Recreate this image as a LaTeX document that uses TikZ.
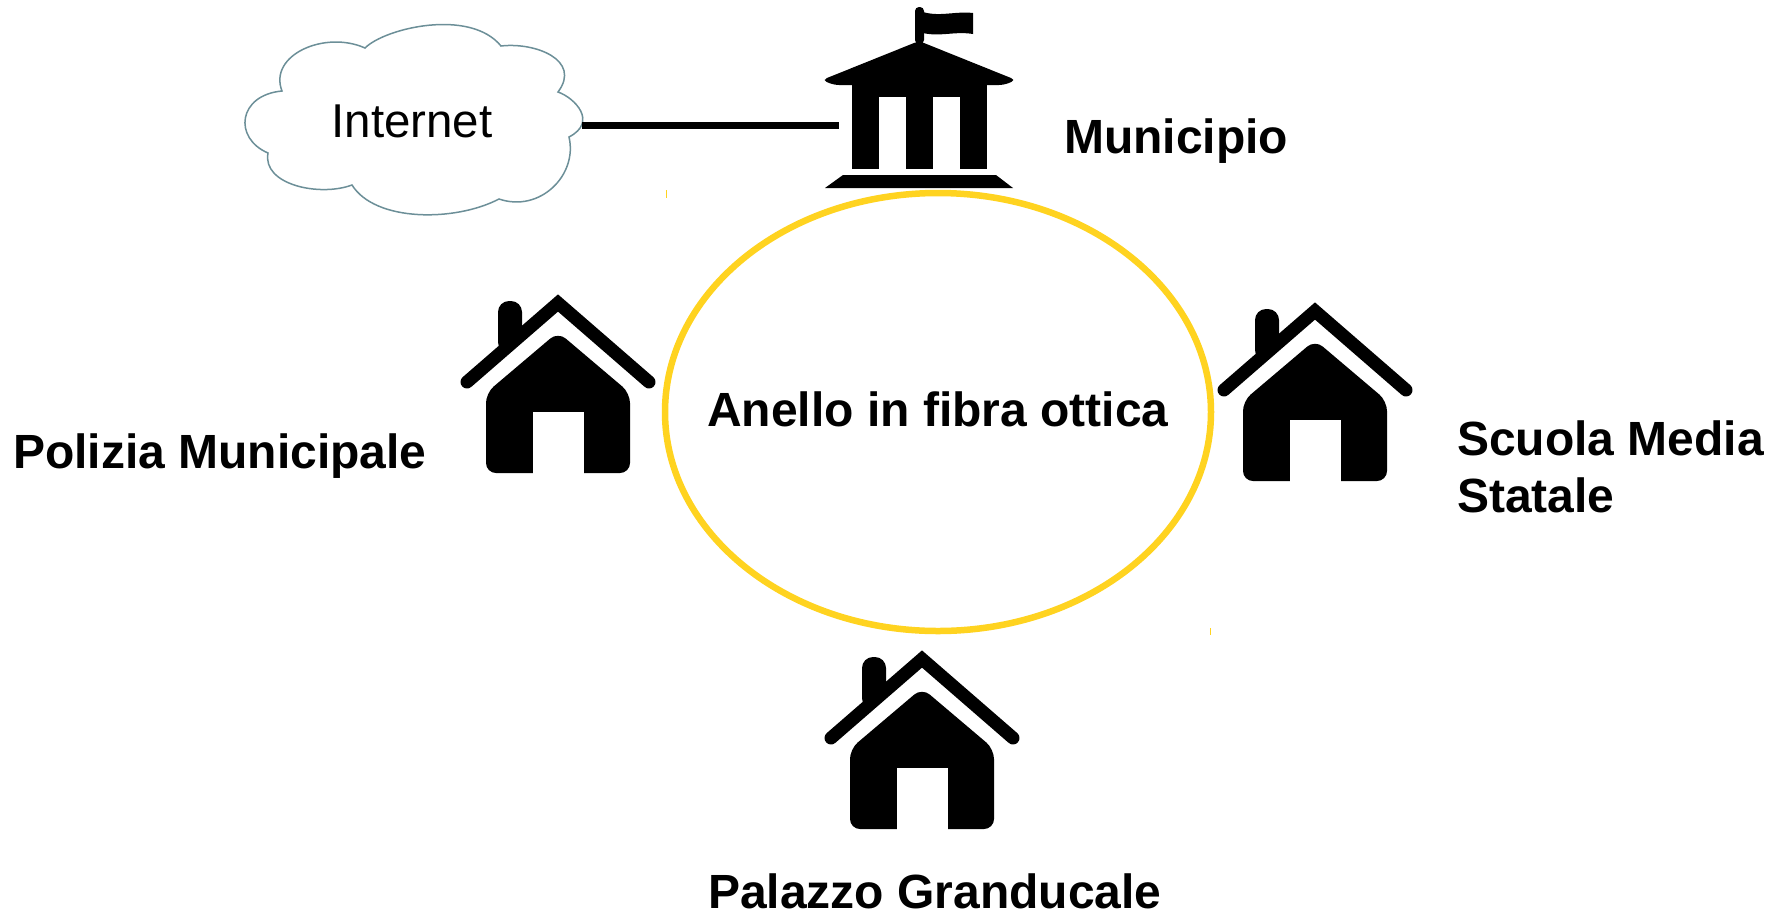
\documentclass[tikz,border=0pt]{standalone}
\usepackage{fontspec}
\setmainfont{Liberation Sans}
\definecolor{ringyellow}{HTML}{FFD320}
\definecolor{cloudline}{HTML}{6C8F98}
\tikzset{
    iconbox/.style={inner sep=0pt, minimum width=161pt, minimum height=40pt},
    netbox/.style={inner sep=0pt, minimum width=340pt, font=\fontsize{47.5}{52}\selectfont},
    place/.style={inner sep=0pt, anchor=base west, font=\fontsize{48}{57}\selectfont\bfseries, align=left},
    wire/.style={line width=7pt},
    house/.pic={
        \draw[line width=13pt, line cap=round, miter limit=10] (-91,-91) -- (0,-170) -- (91,-91);
        \fill[rounded corners=11pt] (-60,-120) -- (-60,-172) -- (-36,-172) -- (-36,-135) -- cycle;
        \fill[rounded corners=10pt] (-72,0) -- (-72,-80) -- (0,-141) -- (72,-80) -- (72,0) -- cycle;
        \fill[white] (-25,1) rectangle (26,-61);
    }
}
\begin{document}
\begin{tikzpicture}[x=1pt,y=-1pt]
    \useasboundingbox (0,0) rectangle (1781,914);
    % ring
    \draw[ringyellow, line width=6.5pt] (938,412) ellipse [x radius=273, y radius=219];
    \draw[ringyellow, line width=0.7pt] (666,190) -- (666,198);
    \draw[ringyellow, line width=0.7pt] (1210,628) -- (1210,635);
    % cloud
    \draw[cloudline, line width=1.5pt, fill=white] (365,48)
        .. controls (385,28) and (470,8) .. (501,46)
        .. controls (535,42) and (582,60) .. (558,92)
        .. controls (575,98) and (598,122) .. (569,137)
        .. controls (578,175) and (540,213) .. (499,199)
        .. controls (455,222) and (375,222) .. (352,185)
        .. controls (320,197) and (262,185) .. (268,153)
        .. controls (233,138) and (238,95) .. (282,91)
        .. controls (268,55) and (325,30) .. (365,48) -- cycle;
    \node[netbox] (internet) at (412,121) {Internet};
    % municipio
    \node[iconbox] (municipio) at (919.5,125) {};
    \fill[rounded corners=4pt] (915,44) -- (915,7) -- (924,7) -- (924,44) -- cycle;
    \fill (923,12) .. controls (940,17) and (955,11) .. (973,13) -- (973,34)
        .. controls (955,31) and (940,37) .. (923,33) -- cycle;
    \fill[rounded corners=5pt] (919,41) -- (822,80) -- (834,85) -- (1004,85) -- (1016,80) -- cycle;
    \fill (852,80) rectangle (987,169);
    \fill[white] (879,97) rectangle (906,170);
    \fill[white] (933,97) rectangle (960,170);
    \fill (843,175) -- (996,175) -- (1013,188) -- (825,188) -- cycle;
    \draw[wire] (internet.east |- municipio.west) -- (municipio.west);
    % houses
    \foreach \name/\j/\l in {polizia/558/473,scuola/1315/481,palazzo/922/829}{
        \coordinate (\name) at (\j,\l);
        \pic at (\name) {house};}
    % labels
    \node[place] (anello) at (707,426) {Anello in fibra ottica};
    \node[place] (municipiolab) at (1064,153) {Municipio};
    \node[place] (polizialab) at (13,468) {Polizia Municipale};
    \node[place, anchor=north west] (scuolalab) at (1457,421) {Scuola Media\\Statale};
    \node[place] (palazzolab) at (708,908) {Palazzo Granducale};
\end{tikzpicture}
\end{document}
